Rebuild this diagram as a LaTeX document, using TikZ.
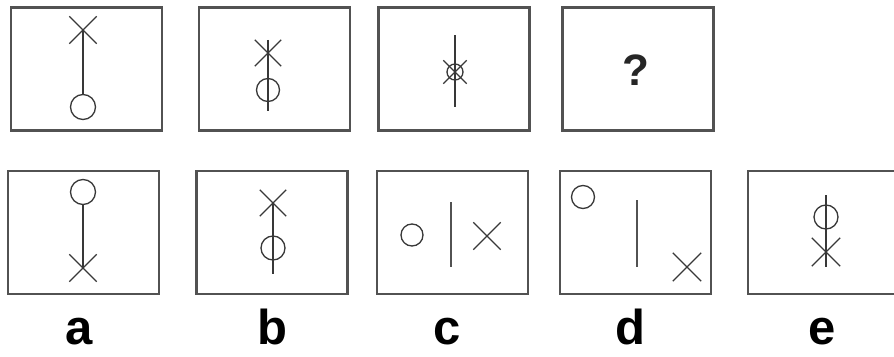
\documentclass[tikz,border=0pt]{standalone}
\usepackage{fontspec}
\setmainfont{Liberation Sans}
\usetikzlibrary{shapes.misc}

\definecolor{frame}{gray}{0.32}
\definecolor{ink}{gray}{0.22}

\tikzset{
  panel/.style={draw=frame, line width=2.4pt, inner sep=0pt, minimum width=151pt, minimum height=123pt},
  ring/.style={draw=ink, circle, line width=1.3pt, inner sep=0pt, minimum size=#1},
  cross/.style={draw=ink, cross out, line width=1.3pt, inner sep=0pt, minimum size=#1},
  stem/.style={draw=ink, line width=1.5pt},
  letter/.style={font=\bfseries\fontsize{49}{49}\selectfont, inner sep=0pt, anchor=base}
}

\begin{document}
\begin{tikzpicture}[x=1pt, y=-1pt]
        \useasboundingbox (0,0) rectangle (894,356);
        % top row
        \node [panel] (top1) at (86.5,69) {};
        \node [panel] (top2) at (274.5,69) {};
        \node [panel] (top3) at (454,69) {};
        \node [panel] (top4) at (638,69) {};
        \node [cross=26pt] (t1x) at (83,30) {};
        \node [ring=25pt] (t1o) at (83,107) {};
        \draw [stem] (t1x.center) -- (t1o);
        \node [cross=25pt] (t2x) at (268,53) {};
        \node [ring=23pt] (t2o) at (268,90) {};
        \draw [stem] (t2x.north) -- ([yshift=-9pt]t2o.south);
        \node [ring=16pt] (t3o) at (455,72) {};
        \node [cross=22pt] (t3x) at (455,72) {};
        \draw [stem] ([yshift=37pt]t3o.center) -- ([yshift=-35pt]t3o.center);
        \node [font=\bfseries\fontsize{44}{44}\selectfont, text=black!85] (quest) at (636,70) {?};
        % bottom row
        \node [panel] (ansa) at (83.5,232.5) {};
        \node [panel] (ansb) at (272,232.5) {};
        \node [panel] (ansc) at (452.5,232.5) {};
        \node [panel] (ansd) at (635.5,232.5) {};
        \node [panel] (anse) at (823.5,232.5) {};
        \node [ring=25pt] (ao) at (83,192) {};
        \node [cross=26pt] (ax) at (83,268) {};
        \draw [stem] (ao) -- (ax.center);
        \node [cross=25pt] (bx) at (273,203) {};
        \node [ring=24pt] (bo) at (273,248) {};
        \draw [stem] (bx.center) -- ([yshift=-13pt]bo.south);
        \node [ring=22pt] (co) at (412,235) {};
        \draw [stem, draw=frame, line width=2.6pt] (451,202) -- (451,267);
        \node [cross=26pt] (cx) at (487,236) {};
        \node [ring=23pt] (do) at (583,197) {};
        \draw [stem, draw=frame] (637,200) -- (637,267);
        \node [cross=27pt] (dx) at (687,267) {};
        \node [ring=24pt] (eo) at (826,217) {};
        \node [cross=27pt] (ex) at (826,252) {};
        \draw [stem] (826,195) -- (826,267);
        % labels
        \node [letter] (la) at (79,344) {a};
        \node [letter] (lb) at (272,344) {b};
        \node [letter] (lc) at (447,344) {c};
        \node [letter] (ld) at (630,344) {d};
        \node [letter] (le) at (822,344) {e};
\end{tikzpicture}
\end{document}
